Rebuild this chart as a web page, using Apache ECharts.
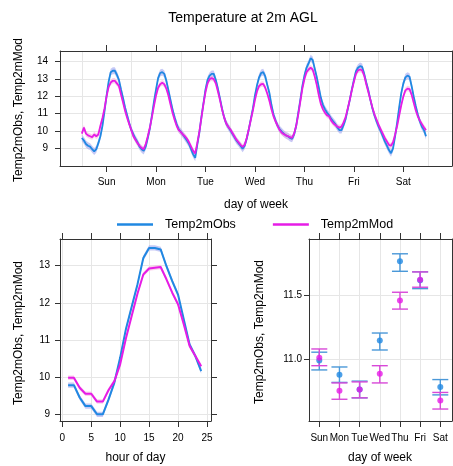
<!DOCTYPE html>
<html>
<head>
<meta charset="utf-8">
<script src="https://cdn.jsdelivr.net/npm/echarts@6/dist/echarts.min.js"></script>
<style>
  html, body { margin: 0; padding: 0; background: #fff; }
  #chart { width: 453px; height: 466px; }
</style>
</head>
<body>
<div id="chart"></div>
<script>
// ---- data ----------------------------------------------------------------
const dayNames = ['Sun', 'Mon', 'Tue', 'Wed', 'Thu', 'Fri', 'Sat'];

// hour-of-week means (0..167), one row per day
const weekObs = [
  9.60, 9.45, 9.25, 9.15, 9.10, 8.95, 8.82, 8.95, 9.30, 9.70, 10.30, 11.15, 12.05, 12.85, 13.40, 13.48, 13.48, 13.25, 12.95, 12.40, 11.90, 11.35, 10.90, 10.45,
  10.06, 9.80, 9.55, 9.35, 9.10, 8.95, 8.85, 9.10, 9.60, 10.15, 10.90, 11.70, 12.40, 13.05, 13.35, 13.40, 13.30, 12.90, 12.35, 11.80, 11.25, 10.80, 10.40, 10.10,
  9.96, 9.80, 9.63, 9.45, 9.25, 8.95, 8.65, 8.45, 9.20, 9.90, 10.80, 11.60, 12.40, 12.95, 13.20, 13.30, 13.30, 12.95, 12.45, 11.90, 11.30, 10.80, 10.45, 10.25,
  10.06, 9.85, 9.65, 9.45, 9.30, 9.15, 8.97, 9.15, 9.55, 10.10, 10.70, 11.30, 12.05, 12.65, 13.10, 13.35, 13.40, 13.15, 12.65, 12.20, 11.50, 10.95, 10.60, 10.30,
  10.10, 9.97, 9.85, 9.75, 9.70, 9.60, 9.55, 9.80, 10.30, 11.05, 11.80, 12.60, 13.20, 13.65, 13.90, 14.20, 14.10, 13.60, 13.10, 12.50, 11.90, 11.50, 11.25, 11.05,
  10.90, 10.70, 10.55, 10.40, 10.20, 10.05, 10.05, 10.35, 10.70, 11.25, 11.80, 12.40, 12.95, 13.45, 13.65, 13.75, 13.70, 13.30, 12.80, 12.35, 11.80, 11.30, 10.90, 10.55,
  10.25, 10.00, 9.70, 9.40, 9.15, 8.90, 8.72, 9.00, 9.70, 10.50, 11.40, 12.20, 12.75, 13.10, 13.20, 13.13, 12.60, 12.00, 11.45, 10.95, 10.55, 10.25, 10.05, 9.70
];
const weekMod = [
  9.85, 10.20, 9.85, 9.75, 9.70, 9.65, 9.80, 9.70, 9.80, 10.30, 10.75, 11.30, 12.00, 12.55, 12.80, 12.90, 12.90, 12.75, 12.60, 12.10, 11.65, 11.15, 10.75, 10.40,
  10.06, 9.70, 9.50, 9.30, 9.15, 9.02, 8.95, 9.25, 9.70, 10.20, 10.80, 11.45, 12.05, 12.50, 12.70, 12.78, 12.70, 12.45, 12.05, 11.55, 11.05, 10.65, 10.30, 10.05,
  9.95, 9.80, 9.70, 9.55, 9.35, 9.10, 8.85, 8.70, 9.30, 9.95, 10.75, 11.55, 12.25, 12.75, 13.00, 13.05, 13.00, 12.75, 12.30, 11.80, 11.25, 10.80, 10.45, 10.25,
  10.10, 9.90, 9.70, 9.50, 9.35, 9.20, 9.08, 9.20, 9.60, 10.10, 10.65, 11.20, 11.80, 12.30, 12.60, 12.70, 12.72, 12.50, 12.15, 11.75, 11.25, 10.85, 10.55, 10.30,
  10.05, 9.90, 9.82, 9.75, 9.70, 9.65, 9.60, 9.85, 10.30, 10.95, 11.70, 12.45, 13.00, 13.40, 13.55, 13.65, 13.55, 13.15, 12.65, 12.05, 11.55, 11.25, 11.05, 10.90,
  10.85, 10.60, 10.45, 10.35, 10.25, 10.20, 10.25, 10.50, 10.80, 11.30, 11.80, 12.35, 12.85, 13.30, 13.50, 13.55, 13.50, 13.20, 12.70, 12.25, 11.80, 11.35, 10.95, 10.65,
  10.35, 10.10, 9.85, 9.60, 9.40, 9.20, 9.15, 9.35, 9.80, 10.30, 10.90, 11.50, 12.00, 12.35, 12.45, 12.42, 12.10, 11.65, 11.20, 10.85, 10.60, 10.40, 10.20, 10.05
];
const weekObsCI = 0.2;   // half-width of the confidence band
const weekModCI = 0.16;

// hour-of-day means
const hourOfDay = [1, 2, 3, 4, 5, 6, 7, 8, 9, 10, 11, 12, 13, 14, 15, 16, 17, 18, 19, 20, 21, 22, 23, 24];
const hourObs = [9.79, 9.79, 9.46, 9.23, 9.23, 9.01, 9.01, 9.41, 9.86, 10.53, 11.30, 11.90, 12.50, 13.20, 13.47, 13.47, 13.43, 12.98, 12.58, 12.22, 11.55, 10.88, 10.57, 10.17];
const hourMod = [9.99, 9.99, 9.72, 9.56, 9.56, 9.35, 9.35, 9.66, 9.90, 10.35, 11.05, 11.65, 12.25, 12.76, 12.92, 12.94, 12.96, 12.63, 12.27, 11.96, 11.42, 10.84, 10.57, 10.30];
const hourObsCI = 0.07;
const hourModCI = 0.06;

// day-of-week means with confidence limits
const dayObs     = [10.990, 10.880, 10.765, 11.145, 11.762, 11.615, 10.785];
const dayObsLow  = [10.917, 10.820, 10.700, 11.072, 11.684, 11.549, 10.723];
const dayObsHigh = [11.055, 10.940, 10.830, 11.204, 11.820, 11.680, 10.842];
const dayMod     = [11.012, 10.755, 10.764, 10.888, 11.456, 11.619, 10.680];
const dayModLow  = [10.950, 10.689, 10.700, 10.816, 11.390, 11.560, 10.613];
const dayModHigh = [11.080, 10.816, 10.824, 10.950, 11.521, 11.679, 10.742];

// tick positions
const weekLabelTicks = [12, 36, 60, 84, 108, 132, 156];
const weekDayBounds = [0, 24, 48, 72, 96, 120, 144, 168];
const weekYTicks = [9, 10, 11, 12, 13, 14];
const hourXTicks = [0, 5, 10, 15, 20, 25];
const hourYTicks = [9, 10, 11, 12, 13];
const dayXTicks = [1, 2, 3, 4, 5, 6, 7];
const dayYTicks = [11.0, 11.5];

// ---- styling ---------------------------------------------------------------
const FONT = '"Liberation Sans", Arial, sans-serif';
const OBS = '#2088E2';
const MOD = '#E61CE6';
const OBS_BAND = 'rgba(160,165,240,0.6)';
const MOD_BAND = 'rgba(248,170,220,0.55)';
const OBS_BAR = '#4A98D8';
const MOD_BAR = '#D848D8';
const AXIS = '#333';
const GRIDLINE = '#e6e6e6';

const ranges = [
  { x: [-10.6, 179.6], y: [7.98, 14.62] },
  { x: [-0.4, 25.7],  y: [8.83, 13.71] },
  { x: [0.49, 7.58],  y: [10.52, 11.935] }
];

function labelStyle(extra) {
  return Object.assign({ fontFamily: FONT, fontSize: 10, color: '#000' }, extra || {});
}

function mainX(grid, ticks, margin, formatter, split) {
  return {
    type: 'value', gridIndex: grid, position: 'bottom',
    min: ranges[grid].x[0], max: ranges[grid].x[1],
    axisLine: { show: true, onZero: false, lineStyle: { color: AXIS, width: 1 } },
    axisTick: { show: true, inside: false, length: 6, customValues: ticks, lineStyle: { color: AXIS } },
    axisLabel: Object.assign(labelStyle(), { show: true, margin: margin, customValues: ticks, formatter: formatter }),
    splitLine: { show: split, lineStyle: { color: GRIDLINE, width: 1 } }
  };
}
function sideX(grid, ticks) {
  return {
    type: 'value', gridIndex: grid, position: 'top',
    min: ranges[grid].x[0], max: ranges[grid].x[1],
    axisLine: { show: true, onZero: false, lineStyle: { color: AXIS, width: 1 } },
    axisTick: { show: true, length: 6, customValues: ticks, lineStyle: { color: AXIS } },
    axisLabel: { show: false, customValues: ticks },
    splitLine: { show: false }
  };
}
function mainY(grid, ticks, margin, formatter) {
  return {
    type: 'value', gridIndex: grid, position: 'left',
    min: ranges[grid].y[0], max: ranges[grid].y[1],
    axisLine: { show: true, onZero: false, lineStyle: { color: AXIS, width: 1 } },
    axisTick: { show: true, length: 5, customValues: ticks, lineStyle: { color: AXIS } },
    axisLabel: Object.assign(labelStyle(), { show: true, margin: margin, customValues: ticks, formatter: formatter }),
    splitLine: { show: true, lineStyle: { color: GRIDLINE, width: 1 } }
  };
}
function sideY(grid, ticks) {
  return {
    type: 'value', gridIndex: grid, position: 'right',
    min: ranges[grid].y[0], max: ranges[grid].y[1],
    axisLine: { show: true, onZero: false, lineStyle: { color: AXIS, width: 1 } },
    axisTick: { show: true, length: 6, customValues: ticks, lineStyle: { color: AXIS } },
    axisLabel: { show: false, customValues: ticks },
    splitLine: { show: false }
  };
}

// shaded band between value - ci and value + ci, drawn as one polygon
function bandSeries(xs, ys, ci, fill, xIdx, yIdx) {
  return {
    type: 'custom', xAxisIndex: xIdx, yAxisIndex: yIdx, silent: true, z: 1,
    data: xs.map((x, i) => [x, ys[i] - ci, ys[i] + ci]),
    encode: { x: 0, y: [1, 2] },
    renderItem: function (params, api) {
      if (params.dataIndex !== 0) return null;
      const pts = [];
      for (let i = 0; i < xs.length; i++) pts.push(api.coord([xs[i], ys[i] + ci]));
      for (let i = xs.length - 1; i >= 0; i--) pts.push(api.coord([xs[i], ys[i] - ci]));
      return { type: 'polygon', shape: { points: pts }, style: { fill: fill } };
    }
  };
}
function lineSeries(name, xs, ys, color, xIdx, yIdx, width) {
  return {
    name: name, type: 'line', xAxisIndex: xIdx, yAxisIndex: yIdx, z: 3,
    data: xs.map((x, i) => [x, ys[i]]),
    showSymbol: false, symbol: 'none',
    color: color,
    lineStyle: { color: color, width: width },
    emphasis: { disabled: true }
  };
}
function errorBarSeries(lo, hi, color, xIdx, yIdx) {
  return {
    type: 'custom', xAxisIndex: xIdx, yAxisIndex: yIdx, silent: true, z: 3,
    data: dayXTicks.map((x, i) => [x, lo[i], hi[i]]),
    encode: { x: 0, y: [1, 2] },
    renderItem: function (params, api) {
      const x = api.value(0);
      const pLo = api.coord([x, api.value(1)]);
      const pHi = api.coord([x, api.value(2)]);
      const w = 8;
      const st = { stroke: color, lineWidth: 1.4 };
      return {
        type: 'group', children: [
          { type: 'line', shape: { x1: pLo[0], y1: pLo[1], x2: pHi[0], y2: pHi[1] }, style: st },
          { type: 'line', shape: { x1: pLo[0] - w, y1: pLo[1], x2: pLo[0] + w, y2: pLo[1] }, style: st },
          { type: 'line', shape: { x1: pHi[0] - w, y1: pHi[1], x2: pHi[0] + w, y2: pHi[1] }, style: st }
        ]
      };
    }
  };
}
function pointSeries(name, ys, color, xIdx, yIdx) {
  return {
    name: name, type: 'scatter', xAxisIndex: xIdx, yAxisIndex: yIdx, z: 4,
    data: dayXTicks.map((x, i) => [x, ys[i]]),
    symbol: 'circle', symbolSize: 6,
    itemStyle: { color: color },
    emphasis: { disabled: true }
  };
}

const weekHours = weekObs.map((v, i) => i);

const option = {
  animation: false,
  backgroundColor: '#fff',
  title: {
    text: 'Temperature at 2m AGL', left: 238, top: 6, textAlign: 'center',
    textStyle: { fontFamily: FONT, fontSize: 14, fontWeight: 'normal', color: '#000' }
  },
  legend: {
    data: ['Temp2mObs', 'Temp2mMod'],
    left: 112, top: 213,
    icon: 'rect', itemWidth: 36, itemHeight: 2.5, itemGap: 37,
    textStyle: { fontFamily: FONT, fontSize: 12.5, color: '#000', padding: [0, 0, 0, 7] },
    selectedMode: false
  },
  grid: [
    { left: 60, top: 51, width: 392, height: 115, containLabel: false },
    { left: 60, top: 239, width: 151, height: 182, containLabel: false },
    { left: 309, top: 239, width: 143, height: 182, containLabel: false }
  ],
  xAxis: [
    mainX(0, weekLabelTicks, 11, v => dayNames[Math.round((v - 12) / 24)], false),
    sideX(0, weekLabelTicks),
    {
      type: 'value', gridIndex: 0, position: 'bottom',
      min: ranges[0].x[0], max: ranges[0].x[1],
      axisLine: { show: false }, axisLabel: { show: false, customValues: weekDayBounds },
      axisTick: { show: false, customValues: weekDayBounds },
      splitLine: { show: true, lineStyle: { color: GRIDLINE, width: 1 } }
    },
    mainX(1, hourXTicks, 12, v => String(v), true),
    sideX(1, hourXTicks),
    mainX(2, dayXTicks, 12, v => dayNames[Math.round(v) - 1], true),
    sideX(2, dayXTicks)
  ],
  yAxis: [
    mainY(0, weekYTicks, 12, v => String(v)),
    sideY(0, weekYTicks),
    mainY(1, hourYTicks, 10, v => String(v)),
    sideY(1, hourYTicks),
    mainY(2, dayYTicks, 7, v => v.toFixed(1)),
    sideY(2, dayYTicks)
  ],
  graphic: [
    { type: 'text', x: 18.5, y: 110, rotation: Math.PI / 2,
      style: { text: 'Temp2mObs, Temp2mMod', fill: '#000', font: '12px ' + FONT, align: 'center', verticalAlign: 'middle' } },
    { type: 'text', x: 18.5, y: 333, rotation: Math.PI / 2,
      style: { text: 'Temp2mObs, Temp2mMod', fill: '#000', font: '12px ' + FONT, align: 'center', verticalAlign: 'middle' } },
    { type: 'text', x: 260, y: 332, rotation: Math.PI / 2,
      style: { text: 'Temp2mObs, Temp2mMod', fill: '#000', font: '12px ' + FONT, align: 'center', verticalAlign: 'middle' } },
    { type: 'text', x: 256, y: 204.5,
      style: { text: 'day of week', fill: '#000', font: '12px ' + FONT, align: 'center', verticalAlign: 'middle' } },
    { type: 'text', x: 135.5, y: 458,
      style: { text: 'hour of day', fill: '#000', font: '12px ' + FONT, align: 'center', verticalAlign: 'middle' } },
    { type: 'text', x: 380, y: 458,
      style: { text: 'day of week', fill: '#000', font: '12px ' + FONT, align: 'center', verticalAlign: 'middle' } }
  ],
  series: [
    // hour of week
    bandSeries(weekHours, weekObs, weekObsCI, OBS_BAND, 0, 0),
    bandSeries(weekHours, weekMod, weekModCI, MOD_BAND, 0, 0),
    lineSeries('Temp2mObs', weekHours, weekObs, OBS, 0, 0, 1.8),
    lineSeries('Temp2mMod', weekHours, weekMod, MOD, 0, 0, 1.8),
    // hour of day
    bandSeries(hourOfDay, hourObs, hourObsCI, OBS_BAND, 3, 2),
    bandSeries(hourOfDay, hourMod, hourModCI, MOD_BAND, 3, 2),
    lineSeries('Temp2mObs', hourOfDay, hourObs, OBS, 3, 2, 2),
    lineSeries('Temp2mMod', hourOfDay, hourMod, MOD, 3, 2, 2),
    // day of week
    errorBarSeries(dayObsLow, dayObsHigh, OBS_BAR, 5, 4),
    pointSeries('Temp2mObs', dayObs, OBS, 5, 4),
    errorBarSeries(dayModLow, dayModHigh, MOD_BAR, 5, 4),
    pointSeries('Temp2mMod', dayMod, MOD, 5, 4)
  ]
};

const chart = echarts.init(document.getElementById('chart'), null, { renderer: 'canvas' });
chart.setOption(option);
</script>
</body>
</html>
